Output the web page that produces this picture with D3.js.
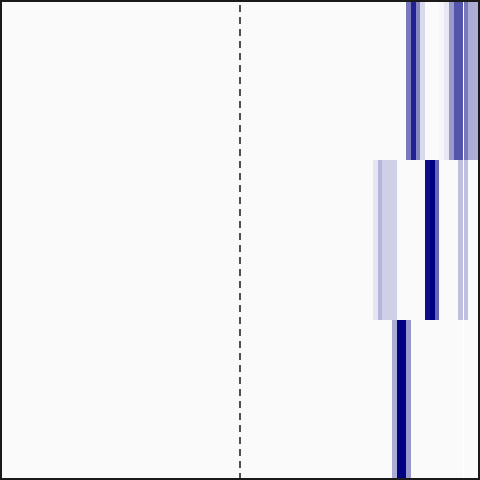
<!DOCTYPE html>
<html>
<head>
<meta charset="utf-8">
<script src="https://cdn.jsdelivr.net/npm/d3@7"></script>
<style>
  html, body { margin: 0; padding: 0; background: #fafafa; }
  svg { display: block; }
</style>
</head>
<body>
<div id="chart"></div>
<script>
// Rows of the heatmap (top to bottom)
const rows = ["row1", "row2", "row3"];

// Bin index (on a -50..50 axis, bin k spans [k, k+1]) and intensity (0..1) per row
const row1Bins = [35, 36, 37, 38, 42, 43, 44, 45, 46, 47, 48, 49];
const row1Vals = [0.53, 0.87, 0.48, 0.15, 0.04, 0.09, 0.40, 0.67, 0.67, 0.53, 0.33, 0.32];

const row2Bins = [28, 29, 30, 31, 32, 39, 40, 41, 46, 47];
const row2Vals = [0.10, 0.29, 0.19, 0.19, 0.19, 0.94, 1.00, 0.60, 0.25, 0.25];

const row3Bins = [32, 33, 34, 35];
const row3Vals = [0.33, 1.00, 1.00, 0.40];

const refZero = 0;      // dashed reference line
const refWhite = 47;    // faint white reference line

const W = 480, H = 480;
const svg = d3.select("#chart").append("svg").attr("width", W).attr("height", H);

const x = d3.scaleLinear().domain([-50, 50]).range([1.5, 477.5]);
const y = d3.scaleBand().domain(rows).range([0, 480]);
const color = d3.scaleLinear().domain([0, 1]).range(["#ffffff", "#000080"]);

svg.append("rect").attr("x", 0).attr("y", 0).attr("width", W).attr("height", H).attr("fill", "#fafafa");

const cells = [];
[[row1Bins, row1Vals], [row2Bins, row2Vals], [row3Bins, row3Vals]].forEach(([b, v], i) => {
  b.forEach((k, j) => cells.push({ row: rows[i], bin: k, value: v[j] }));
});

svg.append("g").selectAll("rect").data(cells).join("rect")
  .attr("x", d => x(d.bin))
  .attr("width", d => x(d.bin + 1) - x(d.bin))
  .attr("y", d => y(d.row))
  .attr("height", y.bandwidth())
  .attr("fill", d => color(d.value))
  .attr("shape-rendering", "crispEdges");

svg.append("line")
  .attr("x1", Math.round(x(refWhite)) + 0.5).attr("x2", Math.round(x(refWhite)) + 0.5)
  .attr("y1", 2).attr("y2", 478)
  .attr("stroke", "#ffffff").attr("stroke-width", 1);

svg.append("line")
  .attr("x1", 240).attr("x2", 240)
  .attr("y1", 0).attr("y2", 480)
  .attr("stroke", "#262626").attr("stroke-width", 1.6)
  .attr("stroke-dasharray", "7,5").attr("stroke-dashoffset", 7);

svg.append("rect")
  .attr("x", 1).attr("y", 1).attr("width", 478).attr("height", 478)
  .attr("fill", "none").attr("stroke", "#1a1a1a").attr("stroke-width", 2);
</script>
</body>
</html>
